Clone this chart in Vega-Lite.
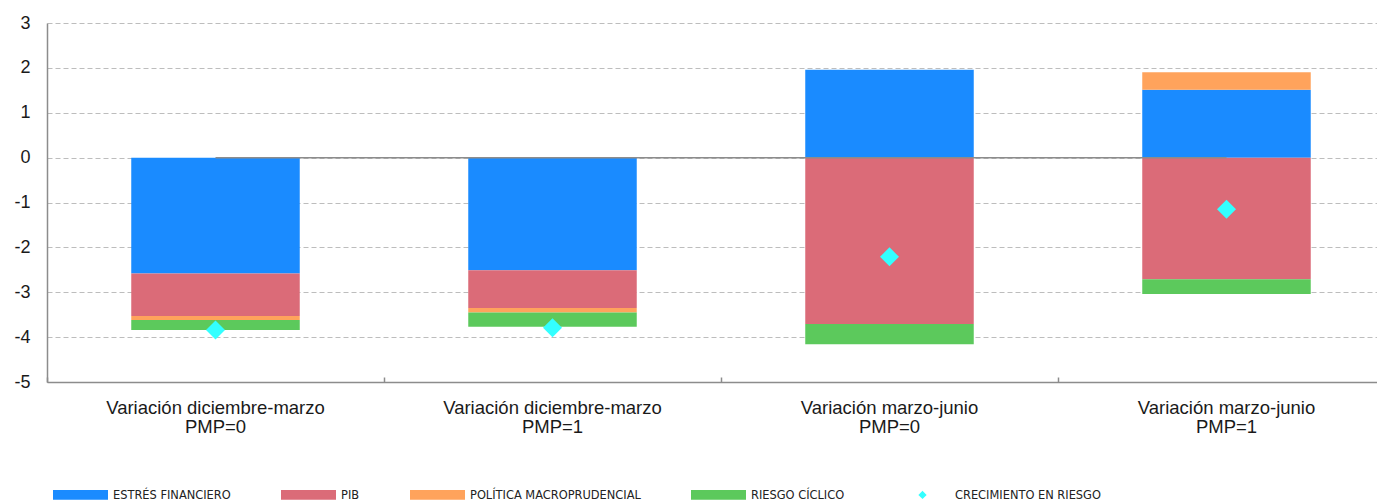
{
  "$schema": "https://vega.github.io/schema/vega-lite/v6.json",
  "width": 1330,
  "height": 359,
  "autosize": "none",
  "padding": {"left": 47, "top": 23, "right": 0, "bottom": 122},
  "background": "white",
  "config": {"view": {"stroke": null}, "font": "Liberation Sans"},
  "datasets": {
    "zero": [{"a": "Variación diciembre-marzo|PMP=0", "b": "Variación marzo-junio|PMP=1", "y": 0}]
  },
  "data": {
    "values": [
      {"cat": "Variación diciembre-marzo|PMP=0", "serie": "ESTRÉS FINANCIERO", "ord": 1, "value": -2.58},
      {"cat": "Variación diciembre-marzo|PMP=0", "serie": "PIB", "ord": 2, "value": -0.95},
      {"cat": "Variación diciembre-marzo|PMP=0", "serie": "POLÍTICA MACROPRUDENCIAL", "ord": 3, "value": -0.09},
      {"cat": "Variación diciembre-marzo|PMP=0", "serie": "RIESGO CÍCLICO", "ord": 4, "value": -0.22},
      {"cat": "Variación diciembre-marzo|PMP=0", "serie": "CRECIMIENTO EN RIESGO", "ord": 5, "value": -3.84},
      {"cat": "Variación diciembre-marzo|PMP=1", "serie": "ESTRÉS FINANCIERO", "ord": 1, "value": -2.51},
      {"cat": "Variación diciembre-marzo|PMP=1", "serie": "PIB", "ord": 2, "value": -0.84},
      {"cat": "Variación diciembre-marzo|PMP=1", "serie": "POLÍTICA MACROPRUDENCIAL", "ord": 3, "value": -0.10},
      {"cat": "Variación diciembre-marzo|PMP=1", "serie": "RIESGO CÍCLICO", "ord": 4, "value": -0.32},
      {"cat": "Variación diciembre-marzo|PMP=1", "serie": "CRECIMIENTO EN RIESGO", "ord": 5, "value": -3.79},
      {"cat": "Variación marzo-junio|PMP=0", "serie": "ESTRÉS FINANCIERO", "ord": 1, "value": 1.96},
      {"cat": "Variación marzo-junio|PMP=0", "serie": "PIB", "ord": 2, "value": -3.71},
      {"cat": "Variación marzo-junio|PMP=0", "serie": "RIESGO CÍCLICO", "ord": 4, "value": -0.45},
      {"cat": "Variación marzo-junio|PMP=0", "serie": "CRECIMIENTO EN RIESGO", "ord": 5, "value": -2.21},
      {"cat": "Variación marzo-junio|PMP=1", "serie": "ESTRÉS FINANCIERO", "ord": 1, "value": 1.51},
      {"cat": "Variación marzo-junio|PMP=1", "serie": "PIB", "ord": 2, "value": -2.71},
      {"cat": "Variación marzo-junio|PMP=1", "serie": "POLÍTICA MACROPRUDENCIAL", "ord": 3, "value": 0.39},
      {"cat": "Variación marzo-junio|PMP=1", "serie": "RIESGO CÍCLICO", "ord": 4, "value": -0.33},
      {"cat": "Variación marzo-junio|PMP=1", "serie": "CRECIMIENTO EN RIESGO", "ord": 5, "value": -1.15}
    ]
  },
  "layer": [
    {
      "transform": [{"filter": "datum.serie !== 'CRECIMIENTO EN RIESGO'"}],
      "mark": {"type": "bar"},
      "encoding": {
        "x": {
          "field": "cat", "type": "nominal",
          "scale": {
            "domain": ["Variación diciembre-marzo|PMP=0", "Variación diciembre-marzo|PMP=1", "Variación marzo-junio|PMP=0", "Variación marzo-junio|PMP=1"],
            "range": [0, 1348], "paddingInner": 0.5, "paddingOuter": 0.25
          },
          "axis": {
            "title": null,
            "labelExpr": "split(datum.label, '|')",
            "labelAngle": 0,
            "labelFont": "Liberation Sans",
            "labelFontSize": 18.5,
            "labelColor": "#1a1a1a",
            "labelLineHeight": 19.5,
            "labelPadding": 21,
            "labelLimit": 400,
            "bandPosition": -0.5,
            "ticks": true,
            "tickSize": -5,
            "tickColor": "#8c8c8c",
            "tickWidth": 1.5,
            "domainColor": "#8c8c8c",
            "domainWidth": 1.5,
            "grid": false
          }
        },
        "y": {
          "field": "value", "type": "quantitative", "stack": "zero",
          "scale": {"domain": [-5, 3], "nice": false, "zero": false},
          "axis": {
            "title": null,
            "values": [-5, -4, -3, -2, -1, 0, 1, 2, 3],
            "labelExpr": "'' + datum.value",
            "labelFont": "Liberation Sans",
            "labelFontSize": 18,
            "labelColor": "#1a1a1a",
            "labelPadding": 17,
            "ticks": false,
            "domainColor": "#8c8c8c",
            "domainWidth": 1.5,
            "grid": true,
            "gridColor": "#bdbdbd",
            "gridWidth": 1,
            "gridDash": [5, 3]
          }
        },
        "color": {
          "field": "serie", "type": "nominal",
          "scale": {
            "domain": ["ESTRÉS FINANCIERO", "PIB", "POLÍTICA MACROPRUDENCIAL", "RIESGO CÍCLICO", "CRECIMIENTO EN RIESGO"],
            "range": ["#1A8BFF", "#DB6B78", "#FFA35C", "#5CC95C", "#33FFFF"]
          },
          "legend": {
            "title": null, "orient": "none", "legendX": 6, "legendY": 444,
            "direction": "horizontal", "symbolSize": 3025, "symbolStrokeWidth": 0,
            "symbolOpacity": 1, "labelFont": "DejaVu Sans Condensed", "labelFontSize": 12.7,
            "labelColor": "#222222", "labelOffset": 5, "columnPadding": 50, "labelLimit": 400
          }
        },
        "order": {"field": "ord", "type": "quantitative"}
      }
    },
    {
      "data": {"name": "zero"},
      "mark": {"type": "rule", "color": "#8c8c8c", "strokeWidth": 1.5},
      "encoding": {
        "x": {"field": "a", "type": "nominal"},
        "x2": {"field": "b"},
        "y": {"field": "y", "type": "quantitative"}
      }
    },
    {
      "transform": [{"filter": "datum.serie === 'CRECIMIENTO EN RIESGO'"}],
      "mark": {"type": "point", "filled": true, "size": 16000, "opacity": 1, "strokeWidth": 0},
      "encoding": {
        "x": {"field": "cat", "type": "nominal"},
        "y": {"field": "value", "type": "quantitative"},
        "color": {"field": "serie", "type": "nominal"},
        "shape": {
          "field": "serie", "type": "nominal",
          "scale": {
            "domain": ["ESTRÉS FINANCIERO", "PIB", "POLÍTICA MACROPRUDENCIAL", "RIESGO CÍCLICO", "CRECIMIENTO EN RIESGO"],
            "range": ["M-1,-0.18H1V0.18H-1Z", "M-1,-0.18H1V0.18H-1Z", "M-1,-0.18H1V0.18H-1Z", "M-1,-0.18H1V0.18H-1Z", "M0,-0.15L0.15,0L0,0.15L-0.15,0Z"]
          },
          "legend": {
            "title": null, "orient": "none", "legendX": 6, "legendY": 444,
            "direction": "horizontal", "symbolSize": 3025, "symbolStrokeWidth": 0,
            "symbolOpacity": 1, "labelFont": "DejaVu Sans Condensed", "labelFontSize": 12.7,
            "labelColor": "#222222", "labelOffset": 5, "columnPadding": 50, "labelLimit": 400
          }
        }
      }
    }
  ]
}
